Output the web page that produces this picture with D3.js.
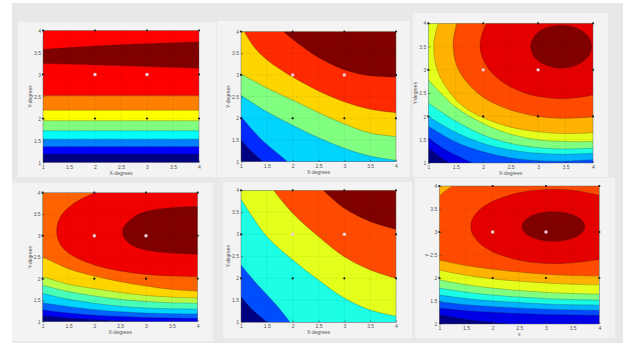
<!DOCTYPE html>
<html>
<head>
<meta charset="utf-8">
<script src="https://cdnjs.cloudflare.com/ajax/libs/d3/7.8.5/d3.min.js"></script>
<style>
  body { margin: 0; background: #fff; }
  svg { display: block; }
  text { font-family: "Liberation Sans", Arial, sans-serif; }
</style>
</head>
<body>
<div id="chart"></div>
<script>
// axis ticks and labels
const ticks = [1, 1.5, 2, 2.5, 3, 3.5, 4];
const xLabels = ['X-degrees', 'X-degrees', 'X-degrees', 'X-degrees', 'X-degrees', 'x'];
const yLabels = ['Y-degrees', 'Y-degrees', 'Y-degrees', 'Y-degrees', 'Y-degrees', 'y'];
const bandCounts = [9, 7, 11, 10, 6, 11];

// design points shown on every panel
const designX = [1, 2, 3, 4];
const designY = [2, 3, 4];
const centrePoints = [[2, 3], [3, 3]];

// contour boundaries: [band above, curve points, closing corners]
// closing corners === null means the curve is a closed ring
const p1Bounds = [
  [1, [[1, 1.19], [2.5, 1.19], [4, 1.19]], [[4, 4], [1, 4]]],
  [2, [[1, 1.36], [2.5, 1.36], [4, 1.36]], [[4, 4], [1, 4]]],
  [3, [[1, 1.53], [2.5, 1.53], [4, 1.53]], [[4, 4], [1, 4]]],
  [4, [[1, 1.72], [2.5, 1.72], [4, 1.72]], [[4, 4], [1, 4]]],
  [5, [[1, 1.95], [2.5, 1.95], [4, 1.95]], [[4, 4], [1, 4]]],
  [6, [[1, 2.19], [2.5, 2.19], [4, 2.19]], [[4, 4], [1, 4]]],
  [7, [[1, 2.52], [2.5, 2.52], [4, 2.52]], [[4, 4], [1, 4]]],
  [8, [[1, 3.25], [2, 3.22], [3, 3.18], [4, 3.14]], [[4, 4], [1, 4]]],
  [7, [[1, 3.57], [2, 3.645], [3, 3.70], [4, 3.74]], [[4, 4], [1, 4]]]
];

const p2Bounds = [
  [1, [[1, 1.5], [1.2, 1.24], [1.43, 1]], [[4, 1], [4, 4], [1, 4]]],
  [2, [[1, 2.04], [1.2, 1.76], [1.45, 1.45], [1.7, 1.2], [1.9, 1]], [[4, 1], [4, 4], [1, 4]]],
  [3, [[1, 2.53], [1.5, 2.15], [2, 1.84], [2.5, 1.55], [3, 1.31], [3.5, 1.13], [4, 1.03]], [[4, 4], [1, 4]]],
  [4, [[1, 3.02], [1.5, 2.7], [2, 2.42], [2.5, 2.13], [3, 1.87], [3.5, 1.66], [4, 1.58]], [[4, 4], [1, 4]]],
  [5, [[1.06, 4], [1.25, 3.65], [1.5, 3.35], [2, 2.95], [2.5, 2.63], [3, 2.38], [3.5, 2.21], [4, 2.13]], [[4, 4]]],
  [6, [[1.82, 4], [2, 3.82], [2.5, 3.4], [3, 3.12], [3.5, 2.98], [4, 2.95]], [[4, 4]]]
];

const p3Bounds = [
  [1, [[1, 1.32], [1.2, 1.14], [1.38, 1]], [[4, 1], [4, 4], [1, 4]]],
  [2, [[1, 1.54], [1.25, 1.33], [1.5, 1.17], [1.8, 1]], [[4, 1], [4, 4], [1, 4]]],
  [3, [[1, 1.79], [1.5, 1.45], [2, 1.24], [2.5, 1.11], [3, 1.05], [3.5, 1.04], [4, 1.07]], [[4, 4], [1, 4]]],
  [4, [[1, 2.0], [1.5, 1.66], [2, 1.42], [2.5, 1.28], [3, 1.21], [3.5, 1.19], [4, 1.21]], [[4, 4], [1, 4]]],
  [5, [[1, 2.29], [1.5, 1.9], [2, 1.6], [2.5, 1.42], [3, 1.33], [3.5, 1.3], [4, 1.32]], [[4, 4], [1, 4]]],
  [6, [[1, 2.79], [1.5, 2.2], [2, 1.85], [2.5, 1.62], [3, 1.5], [3.5, 1.46], [4, 1.46]], [[4, 4], [1, 4]]],
  [7, [[1.18, 4], [1.1, 3.55], [1.16, 3.0], [1.4, 2.5], [1.65, 2.2], [2, 1.97], [2.5, 1.77], [3, 1.67], [3.5, 1.63], [4, 1.65]], [[4, 4]]],
  [8, [[1.52, 4], [1.45, 3.55], [1.55, 3.0], [1.9, 2.5], [2.35, 2.2], [2.9, 2.02], [3.4, 1.96], [4, 1.99]], [[4, 4]]],
  [9, [[2.06, 4], [1.96, 3.7], [1.95, 3.4], [2.11, 3.0], [2.4, 2.7], [2.77, 2.5], [3.1, 2.41], [3.4, 2.38], [3.7, 2.4], [4, 2.46]], [[4, 4]]],
  [10, [[3.975, 3.5], [3.901, 3.73], [3.698, 3.898], [3.42, 3.96], [3.142, 3.898], [2.939, 3.73],
        [2.865, 3.5], [2.939, 3.27], [3.142, 3.102], [3.42, 3.04], [3.698, 3.102], [3.901, 3.27]], null]
];

const p4Bounds = [
  [1, [[1, 1.13], [1.5, 1.08], [2, 1.045], [2.5, 1.018], [3, 1]], [[4, 1], [4, 4], [1, 4]]],
  [2, [[1, 1.27], [1.5, 1.2], [2, 1.15], [2.5, 1.12], [3, 1.1], [3.5, 1.085], [4, 1.08]], [[4, 4], [1, 4]]],
  [3, [[1, 1.44], [1.5, 1.35], [2, 1.28], [2.5, 1.23], [3, 1.2], [3.5, 1.185], [4, 1.18]], [[4, 4], [1, 4]]],
  [4, [[1, 1.66], [1.5, 1.52], [2, 1.43], [2.5, 1.36], [3, 1.32], [3.5, 1.3], [4, 1.29]], [[4, 4], [1, 4]]],
  [5, [[1, 1.85], [1.5, 1.7], [2, 1.6], [2.5, 1.52], [3, 1.47], [3.5, 1.44], [4, 1.43]], [[4, 4], [1, 4]]],
  [6, [[1, 2.05], [1.5, 1.87], [2, 1.77], [2.5, 1.68], [3, 1.61], [3.5, 1.57], [4, 1.55]], [[4, 4], [1, 4]]],
  [7, [[1, 2.51], [1.5, 2.23], [2, 2.06], [2.5, 1.93], [3, 1.83], [3.5, 1.75], [4, 1.71]], [[4, 4], [1, 4]]],
  [8, [[2.01, 4], [1.6, 3.75], [1.35, 3.45], [1.27, 3.1], [1.35, 2.78], [1.6, 2.52], [2, 2.32], [2.5, 2.18], [3, 2.1], [3.5, 2.06], [4, 2.04]], [[4, 4]]],
  [9, [[4, 3.68], [3.5, 3.65], [3, 3.56], [2.75, 3.42], [2.57, 3.2], [2.56, 3.0], [2.7, 2.8], [3, 2.67], [3.5, 2.6], [4, 2.57]], []]
];

const p5Bounds = [
  [1, [[1, 1.58], [1.2, 1.31], [1.5, 1]], [[4, 1], [4, 4], [1, 4]]],
  [2, [[1, 2.3], [1.3, 1.88], [1.6, 1.5], [1.8, 1.23], [1.95, 1]], [[4, 1], [4, 4], [1, 4]]],
  [3, [[1, 3.8], [1.5, 2.95], [2, 2.42], [2.5, 1.96], [3, 1.55], [3.5, 1.28], [4, 1.14]], [[4, 4], [1, 4]]],
  [4, [[1.63, 4], [2, 3.48], [2.5, 2.95], [3, 2.49], [3.5, 2.19], [4, 2.0]], [[4, 4]]],
  [5, [[2.59, 4], [3, 3.59], [3.5, 3.29], [4, 3.11]], [[4, 4]]]
];

const p6Bounds = [
  [1, [[1, 1.2], [1.5, 1.1], [2, 1.035], [2.3, 1]], [[4, 1], [4, 4], [1, 4]]],
  [2, [[1, 1.34], [1.5, 1.289], [2, 1.253], [2.5, 1.228], [3, 1.208], [3.5, 1.196], [4, 1.19]], [[4, 4], [1, 4]]],
  [3, [[1, 1.48], [1.5, 1.419], [2, 1.376], [2.5, 1.345], [3, 1.322], [3.5, 1.307], [4, 1.3]], [[4, 4], [1, 4]]],
  [4, [[1, 1.63], [1.5, 1.555], [2, 1.502], [2.5, 1.465], [3, 1.436], [3.5, 1.419], [4, 1.41]], [[4, 4], [1, 4]]],
  [5, [[1, 1.78], [1.5, 1.692], [2, 1.629], [2.5, 1.585], [3, 1.551], [3.5, 1.53], [4, 1.52]], [[4, 4], [1, 4]]],
  [6, [[1, 1.96], [1.5, 1.855], [2, 1.78], [2.5, 1.728], [3, 1.687], [3.5, 1.662], [4, 1.65]], [[4, 4], [1, 4]]],
  [7, [[1, 2.17], [1.5, 2.06], [2, 1.98], [2.5, 1.93], [3, 1.89], [3.5, 1.863], [4, 1.85]], [[4, 4], [1, 4]]],
  [8, [[1, 2.39], [1.5, 2.27], [2, 2.19], [2.5, 2.13], [3, 2.08], [3.5, 2.054], [4, 2.04]], [[4, 4], [1, 4]]],
  [7, [[1, 3.78], [1.12, 3.9], [1.25, 4]], [[1, 4]]],
  [9, [[4, 3.8], [3.5, 3.91], [3, 3.925], [2.5, 3.856], [2, 3.667], [1.75, 3.477], [1.62, 3.28], [1.59, 3.12],
       [1.62, 2.96], [1.75, 2.763], [2, 2.573], [2.5, 2.384], [3, 2.314], [3.5, 2.33], [4, 2.4]], []],
  [10, [[3.73, 3.12], [3.651, 3.28], [3.435, 3.397], [3.14, 3.44], [2.845, 3.397], [2.629, 3.28],
        [2.55, 3.12], [2.629, 2.96], [2.845, 2.843], [3.14, 2.8], [3.435, 2.843], [3.651, 2.96]], null]
];

const allBounds = [p1Bounds, p2Bounds, p3Bounds, p4Bounds, p5Bounds, p6Bounds];

// panel frames and plot areas in pixels: box [x0, y0, x1, y1], plot [left, right, top, bottom]
const layout = [
  { box: [18, 22, 216, 177], plot: [43, 199, 30.5, 162.5] },
  { box: [217, 21, 410, 177], plot: [241, 396, 31.5, 161.7] },
  { box: [413, 13, 608, 177], plot: [428.3, 593, 23.3, 163] },
  { box: [12, 183, 213, 341], plot: [42.6, 197.7, 192.7, 321.7] },
  { box: [223, 182, 412, 338], plot: [241, 396, 190.3, 322.3] },
  { box: [415, 178, 615, 338], plot: [439.3, 599.3, 186, 324] }
];

// matlab style jet colormap
function jet(t) {
  const c = v => Math.round(255 * Math.max(0, Math.min(1, 1.5 - Math.abs(4 * t - v))));
  return `rgb(${c(3)},${c(2)},${c(1)})`;
}

const svg = d3.select('#chart').append('svg')
  .attr('width', 638)
  .attr('height', 345);

// soft edges like the scanned original
svg.append('defs').append('filter')
  .attr('id', 'soft')
  .append('feGaussianBlur')
  .attr('stdDeviation', 0.45);

svg.append('rect')
  .attr('x', 12).attr('y', 3)
  .attr('width', 611).attr('height', 340)
  .attr('fill', '#e8e8e8');

allBounds.forEach((bounds, i) => {
  const L = layout[i];
  const n = bandCounts[i];
  const color = b => jet(b / (n - 1));

  const g = svg.append('g');

  g.append('rect')
    .attr('x', L.box[0]).attr('y', L.box[1])
    .attr('width', L.box[2] - L.box[0]).attr('height', L.box[3] - L.box[1])
    .attr('fill', '#f3f3f3');

  const x = d3.scaleLinear().domain([1, 4]).range([L.plot[0], L.plot[1]]);
  const y = d3.scaleLinear().domain([1, 4]).range([L.plot[3], L.plot[2]]);

  const clipId = 'clip' + i;
  g.append('clipPath').attr('id', clipId)
    .append('rect')
    .attr('x', x(1)).attr('y', y(4))
    .attr('width', x(4) - x(1)).attr('height', y(1) - y(4));

  const plot = g.append('g')
    .attr('clip-path', `url(#${clipId})`)
    .append('g')
    .attr('filter', 'url(#soft)');

  // lowest band fills the whole plot first
  plot.append('rect')
    .attr('x', x(1) - 2).attr('y', y(4) - 2)
    .attr('width', x(4) - x(1) + 4).attr('height', y(1) - y(4) + 4)
    .attr('fill', color(0));

  const lines = [];
  bounds.forEach(([band, pts, corners]) => {
    const closed = corners === null;
    const line = d3.line()
      .x(d => x(d[0]))
      .y(d => y(d[1]))
      .curve(closed ? d3.curveCatmullRomClosed : d3.curveCatmullRom);
    let path = line(pts);
    if (!closed) {
      path += corners.map(c => `L${x(c[0])},${y(c[1])}`).join('') + 'Z';
    }
    plot.append('path').attr('d', path).attr('fill', color(band));
    lines.push(line(pts));
  });

  // contour lines on top of the fills
  plot.selectAll('path.contour')
    .data(lines)
    .enter()
    .append('path')
    .attr('class', 'contour')
    .attr('d', d => d)
    .attr('fill', 'none')
    .attr('stroke', '#202020')
    .attr('stroke-width', 0.5)
    .attr('stroke-opacity', 0.5);

  // dotted grid
  const grid = plot.append('g')
    .attr('stroke', '#000')
    .attr('stroke-opacity', 0.25)
    .attr('stroke-width', 0.5)
    .attr('stroke-dasharray', '1,1.5');
  ticks.slice(1, -1).forEach(t => {
    grid.append('line').attr('x1', x(t)).attr('x2', x(t)).attr('y1', y(1)).attr('y2', y(4));
    grid.append('line').attr('x1', x(1)).attr('x2', x(4)).attr('y1', y(t)).attr('y2', y(t));
  });

  // design points
  const pts = [];
  designY.forEach(py => designX.forEach(px => pts.push([px, py])));
  g.selectAll('circle.dp')
    .data(pts)
    .enter()
    .append('circle')
    .attr('class', 'dp')
    .attr('cx', d => x(d[0]))
    .attr('cy', d => y(d[1]))
    .attr('r', 1.1)
    .attr('fill', '#111');
  g.selectAll('circle.cp')
    .data(centrePoints)
    .enter()
    .append('circle')
    .attr('class', 'cp')
    .attr('cx', d => x(d[0]))
    .attr('cy', d => y(d[1]))
    .attr('r', 1.7)
    .attr('fill', '#f2d2da');

  g.append('rect')
    .attr('x', x(1)).attr('y', y(4))
    .attr('width', x(4) - x(1)).attr('height', y(1) - y(4))
    .attr('fill', 'none')
    .attr('stroke', '#555')
    .attr('stroke-width', 0.4);

  const fmt = d => String(d);

  const xa = g.append('g')
    .attr('transform', `translate(0,${y(1)})`)
    .call(d3.axisBottom(x).tickValues(ticks).tickFormat(fmt).tickSizeInner(-2).tickSizeOuter(0).tickPadding(2.5));
  const ya = g.append('g')
    .attr('transform', `translate(${x(1)},0)`)
    .call(d3.axisLeft(y).tickValues(ticks).tickFormat(fmt).tickSizeInner(-2).tickSizeOuter(0).tickPadding(2));
  [xa, ya].forEach(a => {
    a.select('.domain').remove();
    a.selectAll('line').attr('stroke', '#333').attr('stroke-width', 0.5);
    a.selectAll('text').attr('font-size', 5).attr('fill', '#555');
  });

  g.append('text')
    .attr('x', (x(1) + x(4)) / 2)
    .attr('y', y(1) + 12)
    .attr('text-anchor', 'middle')
    .attr('font-size', 5)
    .attr('fill', '#555')
    .text(xLabels[i]);

  g.append('text')
    .attr('transform', `translate(${x(1) - 11},${(y(1) + y(4)) / 2}) rotate(-90)`)
    .attr('text-anchor', 'middle')
    .attr('font-size', 5)
    .attr('fill', '#555')
    .text(yLabels[i]);
});
</script>
</body>
</html>
